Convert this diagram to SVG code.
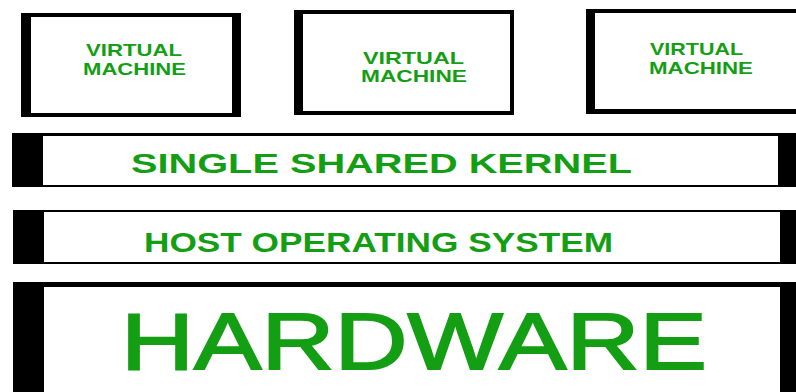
<svg xmlns="http://www.w3.org/2000/svg" width="796" height="392" viewBox="0 0 796 392">
  <style>
    .frame { fill: #000; }
    .face { fill: #fff; }
    .label { font-family: "Liberation Sans", Arial, sans-serif; font-weight: bold; fill: #149e14; }
    .vm { font-size: 17px; }
    .layer { font-size: 28px; }
    .big { font-size: 80px; font-weight: normal; stroke: #149e14; stroke-width: 1.8px; }
  </style>
  <rect width="796" height="392" fill="#fff"/>

  <g id="vm1">
    <rect class="frame" x="21" y="13" width="220" height="104"/>
    <rect class="face" x="31" y="17" width="201" height="96"/>
    <text class="label vm" x="86" y="56" textLength="96" lengthAdjust="spacingAndGlyphs">VIRTUAL</text>
    <text class="label vm" x="83" y="75" textLength="103" lengthAdjust="spacingAndGlyphs">MACHINE</text>
  </g>

  <g id="vm2">
    <rect class="frame" x="294" y="10" width="220" height="105"/>
    <rect class="face" x="303" y="14" width="207" height="97"/>
    <text class="label vm" x="363" y="64" textLength="101" lengthAdjust="spacingAndGlyphs">VIRTUAL</text>
    <text class="label vm" x="361" y="82" textLength="106" lengthAdjust="spacingAndGlyphs">MACHINE</text>
  </g>

  <g id="vm3">
    <rect class="frame" x="586" y="9" width="215" height="105"/>
    <rect class="face" x="595" y="13" width="201" height="96"/>
    <text class="label vm" x="650" y="55" textLength="93" lengthAdjust="spacingAndGlyphs">VIRTUAL</text>
    <text class="label vm" x="649" y="74" textLength="104" lengthAdjust="spacingAndGlyphs">MACHINE</text>
  </g>

  <g id="kernel">
    <rect class="frame" x="12" y="133" width="790" height="54"/>
    <rect class="face" x="43" y="136" width="735" height="49"/>
    <text class="label layer" x="131" y="173" textLength="501" lengthAdjust="spacingAndGlyphs">SINGLE SHARED KERNEL</text>
  </g>

  <g id="host-os">
    <rect class="frame" x="13" y="210" width="790" height="54"/>
    <rect class="face" x="44" y="212" width="736" height="50"/>
    <text class="label layer" x="144" y="252" textLength="469" lengthAdjust="spacingAndGlyphs">HOST OPERATING SYSTEM</text>
  </g>

  <g id="hardware">
    <rect class="frame" x="13" y="282" width="790" height="115"/>
    <rect class="face" x="44" y="287" width="736" height="110"/>
    <text class="label big" x="121" y="369" textLength="586" lengthAdjust="spacingAndGlyphs">HARDWARE</text>
  </g>

  <g id="connectors"/>
</svg>
